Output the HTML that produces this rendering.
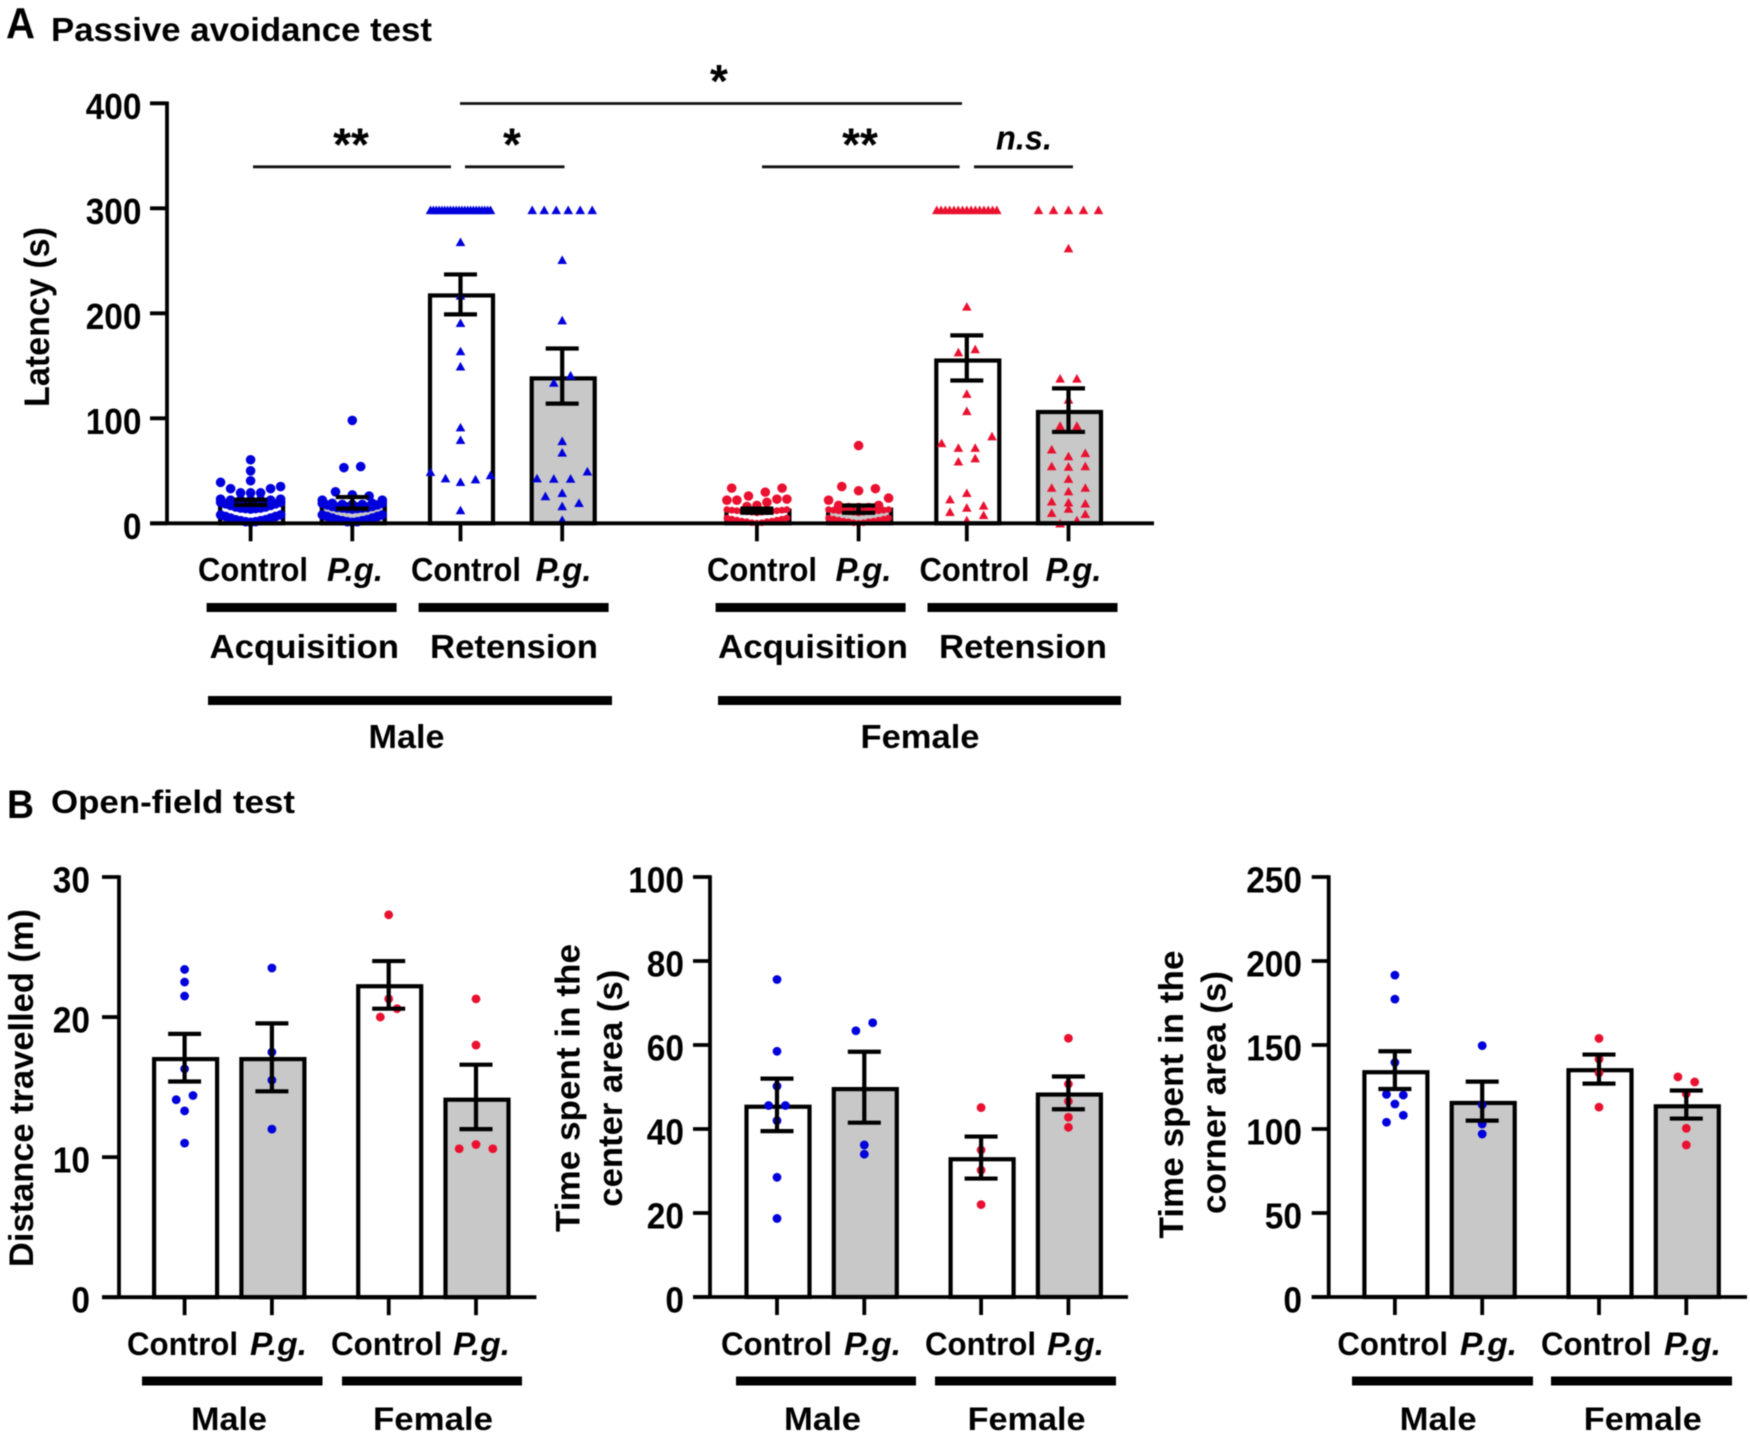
<!DOCTYPE html>
<html lang="en">
<head>
<meta charset="utf-8">
<title>Passive avoidance and open-field tests</title>
<style>
html,body{margin:0;padding:0;background:#fff;width:1750px;height:1437px;overflow:hidden}
svg{display:block;filter:blur(0.55px)}
text{font-family:"Liberation Sans",sans-serif;font-weight:700;fill:#000}
.it{font-style:italic}
</style>
</head>
<body>
<svg id="figure" xmlns="http://www.w3.org/2000/svg" width="1750" height="1437" viewBox="0 0 1750 1437">
  <rect width="1750" height="1437" fill="#fff"/>

  <text x="6" y="38" font-size="44" textLength="29" lengthAdjust="spacingAndGlyphs">A</text>
  <text x="51" y="41" font-size="33.5" textLength="381" lengthAdjust="spacingAndGlyphs">Passive avoidance test</text>
  <text x="7" y="818" font-size="40" textLength="27" lengthAdjust="spacingAndGlyphs">B</text>
  <text x="51" y="813" font-size="32" textLength="244" lengthAdjust="spacingAndGlyphs">Open-field test</text>

  <text transform="translate(49,407) rotate(-90)" font-size="35" textLength="180" lengthAdjust="spacingAndGlyphs">Latency (s)</text>

  <g stroke="#111" stroke-width="2.8">
    <line x1="253" x2="451" y1="166.8" y2="166.8"/>
    <line x1="465" x2="564.5" y1="166.8" y2="166.8"/>
    <line x1="460" x2="962" y1="103.5" y2="103.5"/>
    <line x1="762" x2="959.6" y1="166.8" y2="166.8"/>
    <line x1="974" x2="1073" y1="166.8" y2="166.8"/>
  </g>
  <text x="351" y="160.5" font-size="46" text-anchor="middle">**</text>
  <text x="512" y="160.5" font-size="46" text-anchor="middle">*</text>
  <text x="719" y="97" font-size="46" text-anchor="middle">*</text>
  <text x="860" y="160.5" font-size="46" text-anchor="middle">**</text>
  <text class="it" x="996" y="149.5" font-size="34" textLength="56" lengthAdjust="spacingAndGlyphs">n.s.</text>

  <g font-size="33.5">
    <text x="198" y="581" textLength="110" lengthAdjust="spacingAndGlyphs">Control</text>
    <text class="it" x="327" y="581" textLength="56" lengthAdjust="spacingAndGlyphs">P.g.</text>
    <text x="411" y="581" textLength="110" lengthAdjust="spacingAndGlyphs">Control</text>
    <text class="it" x="535.5" y="581" textLength="56" lengthAdjust="spacingAndGlyphs">P.g.</text>
    <text x="707" y="581" textLength="110" lengthAdjust="spacingAndGlyphs">Control</text>
    <text class="it" x="835.5" y="581" textLength="56" lengthAdjust="spacingAndGlyphs">P.g.</text>
    <text x="919.5" y="581" textLength="110" lengthAdjust="spacingAndGlyphs">Control</text>
    <text class="it" x="1045.5" y="581" textLength="56" lengthAdjust="spacingAndGlyphs">P.g.</text>
    <text x="209.5" y="658" textLength="189.5" lengthAdjust="spacingAndGlyphs">Acquisition</text>
    <text x="430" y="658" textLength="168" lengthAdjust="spacingAndGlyphs">Retension</text>
    <text x="718" y="658" textLength="190" lengthAdjust="spacingAndGlyphs">Acquisition</text>
    <text x="939" y="658" textLength="168" lengthAdjust="spacingAndGlyphs">Retension</text>
    <text x="368.5" y="748" textLength="76" lengthAdjust="spacingAndGlyphs">Male</text>
    <text x="860.5" y="748" textLength="119" lengthAdjust="spacingAndGlyphs">Female</text>
  </g>
  <g fill="#000">
    <rect x="206.6" y="603" width="190" height="9"/>
    <rect x="418.6" y="603" width="190" height="9"/>
    <rect x="715.6" y="603" width="190" height="9"/>
    <rect x="927.5" y="603" width="190" height="9"/>
    <rect x="208" y="696" width="404" height="9"/>
    <rect x="718" y="696" width="403" height="9"/>
  </g>

  <text transform="translate(33,1267) rotate(-90)" font-size="34.5" textLength="358" lengthAdjust="spacingAndGlyphs">Distance travelled (m)</text>
  <text transform="translate(579.5,1232) rotate(-90)" font-size="34.5" textLength="288" lengthAdjust="spacingAndGlyphs">Time spent in the</text>
  <text transform="translate(622,1206.7) rotate(-90)" font-size="34.5" textLength="237" lengthAdjust="spacingAndGlyphs">center area (s)</text>
  <text transform="translate(1183,1238.5) rotate(-90)" font-size="34.5" textLength="288" lengthAdjust="spacingAndGlyphs">Time spent in the</text>
  <text transform="translate(1225.6,1214) rotate(-90)" font-size="34.5" textLength="243" lengthAdjust="spacingAndGlyphs">corner area (s)</text>

  <g font-size="32.5">
    <text x="127" y="1355" textLength="111" lengthAdjust="spacingAndGlyphs">Control</text>
    <text class="it" x="250" y="1355" textLength="57" lengthAdjust="spacingAndGlyphs">P.g.</text>
    <text x="331" y="1355" textLength="111.5" lengthAdjust="spacingAndGlyphs">Control</text>
    <text class="it" x="453" y="1355" textLength="57" lengthAdjust="spacingAndGlyphs">P.g.</text>
    <text x="191" y="1430" textLength="76" lengthAdjust="spacingAndGlyphs">Male</text>
    <text x="373" y="1430" textLength="120" lengthAdjust="spacingAndGlyphs">Female</text>
    <rect x="142" y="1376.5" width="180.5" height="9"/>
    <rect x="342" y="1376.5" width="180" height="9"/>

    <text x="721" y="1355" textLength="111" lengthAdjust="spacingAndGlyphs">Control</text>
    <text class="it" x="844" y="1355" textLength="57" lengthAdjust="spacingAndGlyphs">P.g.</text>
    <text x="925" y="1355" textLength="111" lengthAdjust="spacingAndGlyphs">Control</text>
    <text class="it" x="1047" y="1355" textLength="57" lengthAdjust="spacingAndGlyphs">P.g.</text>
    <text x="784" y="1430" textLength="77" lengthAdjust="spacingAndGlyphs">Male</text>
    <text x="967.6" y="1430" textLength="118" lengthAdjust="spacingAndGlyphs">Female</text>
    <rect x="736" y="1376.5" width="180" height="9"/>
    <rect x="935" y="1376.5" width="181" height="9"/>

    <text x="1337.4" y="1355" textLength="110.6" lengthAdjust="spacingAndGlyphs">Control</text>
    <text class="it" x="1460" y="1355" textLength="57" lengthAdjust="spacingAndGlyphs">P.g.</text>
    <text x="1541" y="1355" textLength="110.5" lengthAdjust="spacingAndGlyphs">Control</text>
    <text class="it" x="1664" y="1355" textLength="57" lengthAdjust="spacingAndGlyphs">P.g.</text>
    <text x="1399.7" y="1430" textLength="77" lengthAdjust="spacingAndGlyphs">Male</text>
    <text x="1583.8" y="1430" textLength="118" lengthAdjust="spacingAndGlyphs">Female</text>
    <rect x="1352" y="1376.5" width="181" height="9"/>
    <rect x="1551" y="1376.5" width="181" height="9"/>
  </g>
</svg>

<script>
/* ---------- Panel A: passive avoidance latency ---------- */
const latencyCategories = ['Male Acquisition Control','Male Acquisition P.g.','Male Retension Control','Male Retension P.g.','Female Acquisition Control','Female Acquisition P.g.','Female Retension Control','Female Retension P.g.'];
const latencyTicks = [0,100,200,300,400];
const latencyMeans = [20,18,217,138,12,13,155,106];
const latencyErrLow = [17.5,14,199,114,10,10,136,87];
const latencyErrHigh = [22.5,25,237,166.5,14,17,179,128.5];
const latencyMarkers = ['circle','circle','triangle','triangle','circle','circle','triangle','triangle'];
const latencySwarms = [
  [[60.5],[50],[40.5],[39,33,29,29,29,33,35],[23,22,22,22,22,22,23],
   [20,18.5,17,15.5,14.5,14,13.5,14,14.5,15.5,17,18.5,20],[8,6.5,5,3.5,2.5,1.5,1,1.5,2.5,3.5,5,6.5,8]],
  [[98],[53,54],[30,27,26],[22,19,18,18,18,19,22],
   [19,17.5,16,15,14.5,14,13.5,14,14.5,15,16,17.5,19],[8,6.5,5,3.5,2.5,1.5,1,1.5,2.5,3.5,5,6.5,8]],
  [[298.5,298.5,298.5,298.5,298.5,298.5,298.5,298.5,298.5,298.5,298.5,298.5,298.5,298.5,298.5,298.5,298.5,298.5,298.5,298.5,298.5,298.5],
   [268],[217],[191],[164],[149.5],[91.5],[79.5],[49,43,39.5,42,46],[12.6]],
  [[298.5,298.5,298.5,298.5,298.5,298.5],[251],[193.5],[134,141],[78.5],[67.5],
   [43,42.6,42.6,49.5],[26,29,19.5],[16.4],[3.4]],
  [[33.5,26,29.7,33.5],[22,22,16,17,20,23,23],
   [13,12.5,12,11.5,11,10.5,10,10.5,11,11.5,12,12.5,13],[5,4,3,2,1.5,0.5,0,0.5,1.5,2,3,4,5]],
  [[74],[35,31,33],[22,17,15,15,15,17,24],
   [13,12.5,12,11.5,11,10.5,10,10.5,11,11.5,12,12.5,13],[5,4,3,2,1.5,0.5,0,0.5,1.5,2,3,4,5]],
  [[298.5,298.5,298.5,298.5,298.5,298.5,298.5,298.5,298.5,298.5,298.5,298.5,298.5,298.5,298.5],
   [206.5],[163,166],[123.5],[107],[76.5,72,72,83],[59,62],[23,29,17],[11,15,8],[3]],
  [[298.5,298.5,298.5,298.5,298.5],[262],[138,138],[118],[93,93],[70.5,64,67],[54.5,54,54.5],[42.5],
   [34,30.6,34],[21,20,19],[10,14,9],[0,3]]
];

/* ---------- Panel B: open-field test ---------- */
const openFieldCategories = ['Male Control','Male P.g.','Female Control','Female P.g.'];

const distanceTicks = [0,10,20,30];
const distanceMeans = [17,17,22.2,14.1];
const distanceErrLow = [15.4,14.7,20.6,12];
const distanceErrHigh = [18.8,19.55,24,16.6];
const distanceSwarms = [
  [[23.4],[22.5],[21.5],[16.3],[14.1,14.4],[13.3],[11]],
  [[23.5],[17.5],[15.5],[12]],
  [[27.3],[21.3],[20,20.6]],
  [[21.3],[18],[10.6,10.9,10.6]]
];

const centerTicks = [0,20,40,60,80,100];
const centerMeans = [45.3,49.5,32.8,48.2];
const centerErrLow = [39.5,41.5,28.2,44.7];
const centerErrHigh = [52,58.4,38.2,52.5];
const centerSwarms = [
  [[75.6],[58.5],[50.2],[45.6,45.6],[42],[28.5],[18.7]],
  [[63.4,65.3],[36.2],[34]],
  [[45.1],[35],[30.2],[22]],
  [[61.6],[50.7],[46.6],[42.8],[40.4]]
];

const cornerTicks = [0,50,100,150,200,250];
const cornerMeans = [133.8,115.5,135,113.5];
const cornerErrLow = [123.8,105,127,106.2];
const cornerErrHigh = [146.3,128.2,144.3,122.9];
const cornerSwarms = [
  [[191.6],[177.3],[139.6],[120.6,120.2],[114.9],[104,108.2]],
  [[149.6],[114.4],[103],[97]],
  [[153.9],[141.6],[133.4],[113]],
  [[131,128],[121],[100.4],[90.5]]
];

/* ---------- Drawing ---------- */
const svg = document.getElementById('figure');
const NS = 'http://www.w3.org/2000/svg';
const BLUE = '#0000dc', RED = '#ea1030', GRAY = '#c8c8c8';

function mk(parent, tag, attrs) {
  const node = document.createElementNS(NS, tag);
  for (const k in attrs) node.setAttribute(k, attrs[k]);
  parent.appendChild(node);
  return node;
}

/* x axis functions: category index -> pixel centre */
function xLatency(i) {
  return 250.6 + 101.7 * i + (i >= 2 ? 6.5 : 0) + (i >= 4 ? 93 : 0) + (i >= 6 ? 6.5 : 0);
}
function xOpenField(origin) {
  return function (i) { return origin + 87.3 * i + (i >= 2 ? 29.5 : 0); };
}
/* y axis function */
function yLinear(y0, yMax, maxValue) {
  return function (v) { return y0 + (yMax - y0) * v / maxValue; };
}

const BAR_W = 63, SPREAD = 60, STEP = 16.8;

function drawChart(c) {
  const root = mk(svg, 'g', {});
  
  
  const y0 = c.y(0);
  const yMax = c.y(c.ticks[c.ticks.length - 1]);

  /* bars */
  c.means.forEach(function (m, i) {
    const bar = mk(root, 'rect', {
      x: c.x(i) - 30.5, y: c.y(m), width: BAR_W, height: y0 - c.y(m),
      fill: i % 2 === 1 ? GRAY : '#fff', stroke: '#000', 'stroke-width': 4.2
    });
    
    
  });

  /* individual points: each row is spread symmetrically around the category */
  c.swarms.forEach(function (rows, i) {
    const female = i >= c.means.length / 2;
    const colour = female ? RED : BLUE;
    rows.forEach(function (row) {
      const step = row.length > 1 ? Math.min(STEP, SPREAD / (row.length - 1)) : 0;
      row.forEach(function (v, k) {
        const px = c.x(i) + (k - (row.length - 1) / 2) * step;
        const py = c.y(v);
        let dot;
        if (c.markers && c.markers[i] === 'triangle') {
          dot = mk(root, 'polygon', {
            points: (px - 4.8) + ',' + (py + 4.2) + ' ' + (px + 4.8) + ',' + (py + 4.2) + ' ' + px + ',' + (py - 4.4),
            fill: colour
          });
        } else {
          dot = mk(root, 'circle', { cx: px, cy: py, r: (c.markers && female && row.length > 7) ? 3.4 : c.r, fill: colour });
        }
        
        
      });
    });
  });

  /* error bars */
  c.means.forEach(function (m, i) {
    const px = c.x(i);
    const err = mk(root, 'path', {
      d: 'M' + (px - 16.5) + ' ' + c.y(c.high[i]) + 'H' + (px + 16.5) +
         'M' + px + ' ' + c.y(c.high[i]) + 'V' + c.y(c.low[i]) +
         'M' + (px - 16.5) + ' ' + c.y(c.low[i]) + 'H' + (px + 16.5),
      fill: 'none', stroke: '#000', 'stroke-width': 4.2
    });
    
    
  });

  /* axes */
  const yAxis = mk(root, 'line', { x1: c.axisX, x2: c.axisX, y1: yMax - 1.8, y2: y0, stroke: '#000', 'stroke-width': 3.8 });
  
  
  const xAxis = mk(root, 'line', { x1: c.axisX - 17, x2: c.axisEnd, y1: y0, y2: y0, stroke: '#000', 'stroke-width': 3.8 });
  
  

  c.ticks.forEach(function (t) {
    const tick = mk(root, 'line', { x1: c.axisX - 17, x2: c.axisX, y1: c.y(t), y2: c.y(t), stroke: '#000', 'stroke-width': 3.8 });
    
    
    const text = String(t);
    const label = mk(root, 'text', {
      x: c.labelX - text.length * 18.6, y: c.y(t) + 15.5, 'font-size': 36,
      textLength: text.length * 18.6, lengthAdjust: 'spacingAndGlyphs'
    });
    label.textContent = text;
    
    
  });

  c.means.forEach(function (m, i) {
    const tick = mk(root, 'line', { x1: c.x(i), x2: c.x(i), y1: y0, y2: y0 + 18, stroke: '#000', 'stroke-width': 3.8 });
    
    
  });
}

drawChart({
  name: 'latency-chart', ticks: latencyTicks, means: latencyMeans, low: latencyErrLow, high: latencyErrHigh,
  swarms: latencySwarms, markers: latencyMarkers,
  x: xLatency, y: yLinear(523.3, 103.3, 400), axisX: 167, axisEnd: 1154, labelX: 141.5, r: 4.8
});
drawChart({
  name: 'distance-chart', ticks: distanceTicks, means: distanceMeans, low: distanceErrLow, high: distanceErrHigh,
  swarms: distanceSwarms,
  x: xOpenField(184.6), y: yLinear(1297.2, 877, 30), axisX: 119, axisEnd: 536.4, labelX: 90, r: 4.4
});
drawChart({
  name: 'center-area-chart', ticks: centerTicks, means: centerMeans, low: centerErrLow, high: centerErrHigh,
  swarms: centerSwarms,
  x: xOpenField(777), y: yLinear(1297, 877, 100), axisX: 710, axisEnd: 1128, labelX: 684, r: 4.4
});
drawChart({
  name: 'corner-area-chart', ticks: cornerTicks, means: cornerMeans, low: cornerErrLow, high: cornerErrHigh,
  swarms: cornerSwarms,
  x: xOpenField(1394.9), y: yLinear(1297, 877, 250), axisX: 1328.7, axisEnd: 1747, labelX: 1302, r: 4.4
});
</script>
</body>
</html>
